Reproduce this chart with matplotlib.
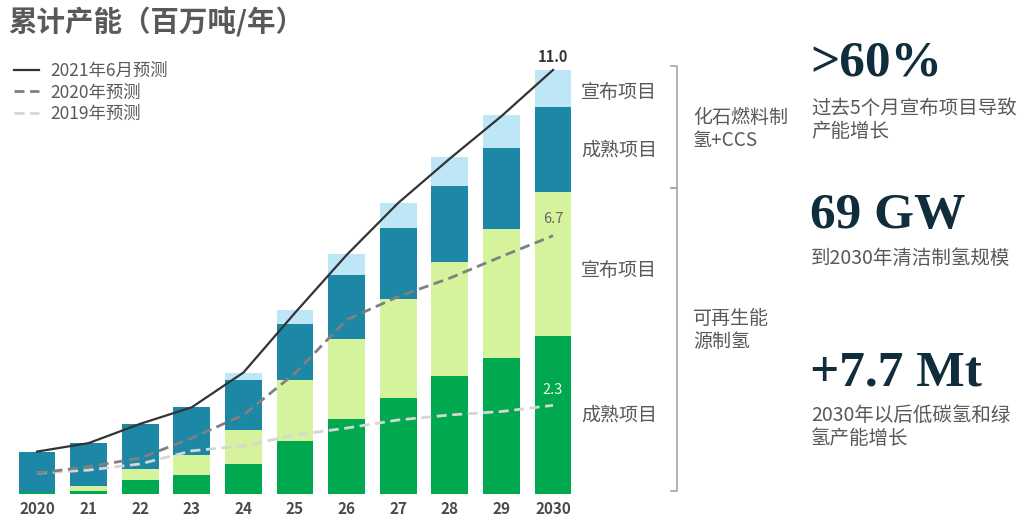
import numpy as np
import matplotlib
matplotlib.use('Agg')
import matplotlib.pyplot as plt
from matplotlib.lines import Line2D

plt.rcParams['font.family'] = ['Noto Sans CJK SC', 'DejaVu Sans']

# cumulative capacity, Mt/yr
years = ['2020', '21', '22', '23', '24', '25', '26', '27', '28', '29', '2030']
green_mature = [0.05, 0.09, 0.36, 0.49, 0.78, 1.38, 1.95, 2.48, 3.05, 3.52, 4.09]
green_announced = [0.00, 0.12, 0.28, 0.52, 0.88, 1.57, 2.08, 2.59, 2.97, 3.35, 3.74]
ccs_mature = [1.05, 1.11, 1.17, 1.24, 1.30, 1.46, 1.64, 1.82, 1.96, 2.10, 2.22]
ccs_announced = [0.00, 0.00, 0.00, 0.00, 0.19, 0.36, 0.56, 0.67, 0.77, 0.87, 0.95]

fc_2021 = [1.10, 1.32, 1.82, 2.25, 3.15, 4.70, 6.20, 7.55, 8.70, 9.80, 11.0]
fc_2020 = [0.54, 0.71, 0.93, 1.45, 2.05, 3.13, 4.52, 5.12, 5.60, 6.16, 6.7]
fc_2019 = [0.54, 0.62, 0.78, 1.12, 1.25, 1.53, 1.71, 1.92, 2.05, 2.14, 2.3]

C_GREEN = '#00a94f'
C_LGREEN = '#d5f29c'
C_BLUE = '#1d87a6'
C_LBLUE = '#bde6f6'
TXT = '#595959'

W, H = 1020, 519
fig = plt.figure(figsize=(W / 100, H / 100), dpi=100)


def fx(x):
    return x / W


def fy(y):
    return 1 - y / H


ax = fig.add_axes([fx(11.2), fy(494), fx(567.6), 11.5 * 38.55 / H])
x = np.arange(len(years))
bw = 0.71
bottom = np.zeros(len(years))
for vals, col in [(green_mature, C_GREEN), (green_announced, C_LGREEN),
                  (ccs_mature, C_BLUE), (ccs_announced, C_LBLUE)]:
    ax.bar(x, vals, bw, bottom=bottom, color=col, linewidth=0, zorder=1)
    bottom += np.array(vals)

ax.plot(x, fc_2021, color='#333333', lw=1.6, zorder=3, label='2021年6月预测')
ax.plot(x, fc_2020, color='#808080', lw=2.0, ls=(0, (3.6, 2)), zorder=3, label='2020年预测')
ax.plot(x, fc_2019, color='#d6d6d6', lw=2.0, ls=(0, (3.6, 2)), zorder=2, label='2019年预测')

ax.text(x[-1], fc_2021[-1] + 0.12, f'{fc_2021[-1]:.1f}', ha='center', va='bottom',
        fontsize=10.5, fontweight='bold', color='#333333')
ax.text(x[-1], fc_2020[-1] + 0.25, f'{fc_2020[-1]:.1f}', ha='center', va='bottom',
        fontsize=10.5, color='#666666')
ax.text(x[-1], fc_2019[-1] + 0.22, f'{fc_2019[-1]:.1f}', ha='center', va='bottom',
        fontsize=10.5, color='#eef7ee')

ax.set_xlim(-0.5, 10.5)
ax.set_ylim(0, 11.5)
ax.set_xticks(x)
ax.set_xticklabels(years, fontsize=11, color='#4a4a4a', fontweight='bold')
ax.tick_params(axis='x', length=0, pad=5)
ax.set_yticks([])
for s in ax.spines.values():
    s.set_visible(False)

leg = ax.legend(loc='upper left', bbox_to_anchor=(fx(14), fy(62)), bbox_transform=fig.transFigure,
                frameon=False, fontsize=12.5, handlelength=1.45, handletextpad=0.65,
                labelspacing=0.2, borderaxespad=0, borderpad=0)
for t in leg.get_texts():
    t.set_color(TXT)

fig.text(fx(8), fy(22), '累计产能（百万吨/年）', fontsize=20.5, fontweight='bold',
         color=TXT, va='center', ha='left')

# segment labels next to the last bar
for label, yy in [('宣布项目', 92), ('成熟项目', 150), ('宣布项目', 270), ('成熟项目', 415)]:
    fig.text(fx(581), fy(yy), label, fontsize=13.7, color=TXT, va='center', ha='left')

# brackets grouping the segments
bc = '#a6a6a6'
for y0, y1 in [(66, 188), (188, 491)]:
    fig.add_artist(Line2D([fx(671), fx(677), fx(677), fx(671)], [fy(y0), fy(y0), fy(y1), fy(y1)],
                          color=bc, lw=1.2))

fig.text(fx(693), fy(129), '化石燃料制\n氢+CCS', fontsize=13.7, color=TXT, va='center',
         ha='left', linespacing=1.1)
fig.text(fx(693), fy(330), '可再生能\n源制氢', fontsize=13.7, color=TXT, va='center',
         ha='left', linespacing=1.1)

# key figures on the right
NAVY = '#0f2d3a'
for big, yy in [('>60%', 64), ('69 GW', 216), ('+7.7 Mt', 373)]:
    fig.text(fx(810), fy(yy), big, fontsize=37, fontweight='bold', color=NAVY,
             family='Liberation Serif', va='center', ha='left')

for sub, yy in [('过去5个月宣布项目导致\n产能增长', 120), ('到2030年清洁制氢规模', 258),
                ('2030年以后低碳氢和绿\n氢产能增长', 427)]:
    fig.text(fx(811), fy(yy), sub, fontsize=14, color=TXT, va='center', ha='left',
             linespacing=1.1)

fig.savefig('out.png', dpi=100, facecolor='white')
